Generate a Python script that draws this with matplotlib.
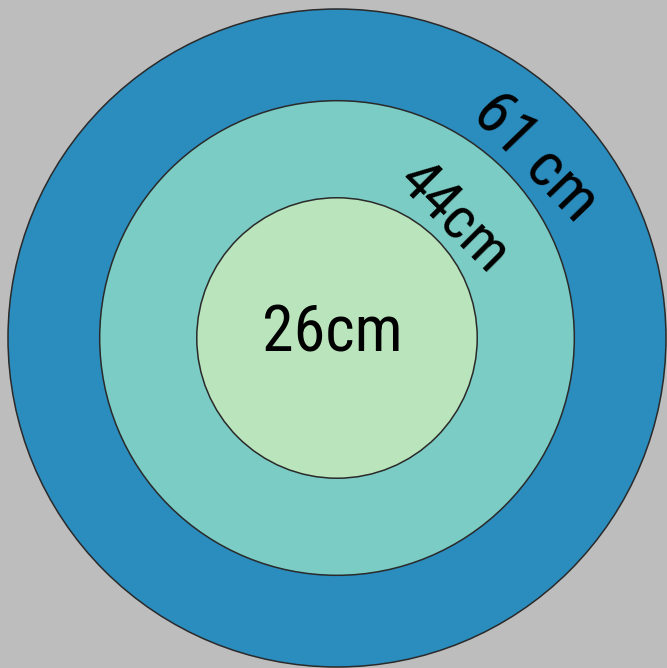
import matplotlib.pyplot as plt
from matplotlib.patches import Circle

# diameters (cm) of the three rings, outer to inner
sizes = [61, 44, 26]
labels = ['61 cm', '44cm', '26cm']
colors = ['#2b8cbe', '#7bccc4', '#bae4bc']

W, H = 667, 668
cx, cy = 337, 338
scale = 329 / sizes[0]

fig = plt.figure(figsize=(W / 100, H / 100), dpi=100, facecolor='#bdbdbd')
ax = fig.add_axes([0, 0, 1, 1])
ax.set_xlim(0, W)
ax.set_ylim(H, 0)
ax.set_facecolor('#bdbdbd')
ax.axis('off')

for s, c in zip(sizes, colors):
    ax.add_patch(Circle((cx, cy), s * scale, facecolor=c, edgecolor='#2a2a2a', lw=1.1))

fam = ['Liberation Sans Narrow', 'Roboto Condensed', 'Liberation Sans']
# labels sit along the ring tangents
ax.text(523, 169, labels[0], rotation=-46, rotation_mode='anchor',
        ha='center', va='baseline', fontsize=45, family=fam, color='black')
ax.text(442, 229, labels[1], rotation=-45, rotation_mode='anchor',
        ha='center', va='baseline', fontsize=43, family=fam, color='black')
ax.text(332, 351, labels[2], ha='center', va='baseline', fontsize=46,
        family=fam, color='black')

fig.savefig('out.png', dpi=100, facecolor=fig.get_facecolor())
